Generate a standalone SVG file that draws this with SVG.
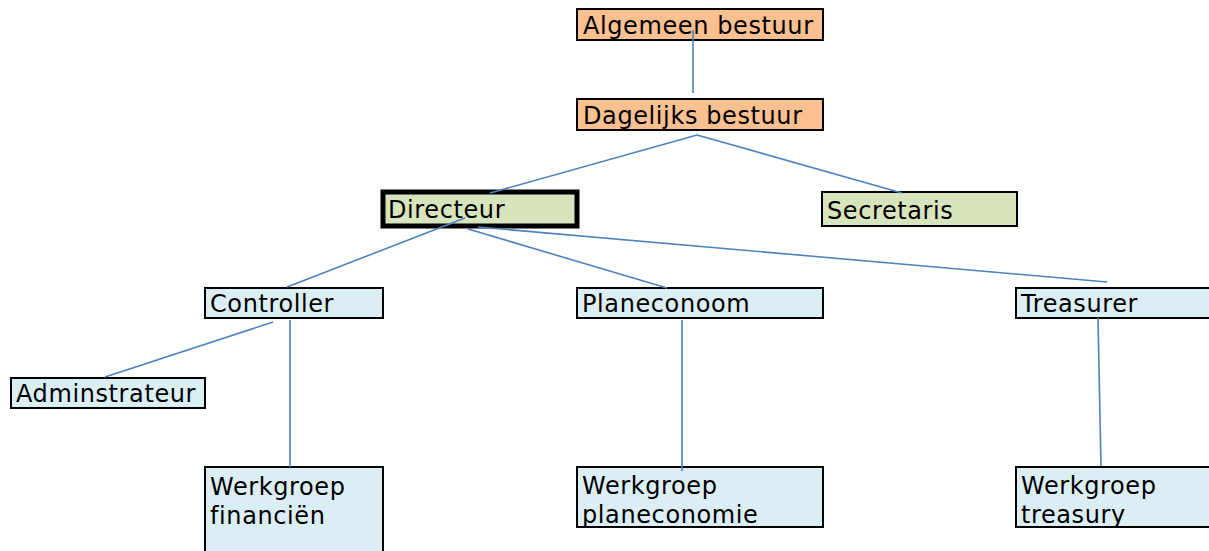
<svg xmlns="http://www.w3.org/2000/svg" width="1209" height="551" viewBox="0 0 1209 551">
<style>
.n rect{stroke:#000;stroke-width:2}
.o{fill:#fac090}
.g{fill:#d7e4bd}
.b{fill:#dbeef4}
text{font-family:"DejaVu Sans","Liberation Sans",sans-serif;font-size:24px;letter-spacing:0.6px;fill:#000}
#connectors line{stroke:#4f81bd;stroke-width:1.6}
</style>
<rect x="0" y="0" width="1209" height="551" fill="#fff"/>
<g id="algemeen" class="n"><rect class="o" x="577" y="9" width="246" height="31"/><text x="583" y="34">Algemeen bestuur</text></g>
<g id="dagelijks" class="n"><rect class="o" x="577" y="99" width="246" height="31"/><text x="583" y="124">Dagelijks bestuur</text></g>
<g id="directeur" class="n"><rect class="g" x="383" y="192" width="194" height="34" style="stroke-width:5"/><text x="388" y="218">Directeur</text></g>
<g id="secretaris" class="n"><rect class="g" x="822" y="192" width="195" height="34"/><text x="827" y="219">Secretaris</text></g>
<g id="controller" class="n"><rect class="b" x="205" y="288" width="178" height="30"/><text x="210" y="312">Controller</text></g>
<g id="planeconoom" class="n"><rect class="b" x="577" y="288" width="246" height="30"/><text x="582" y="312">Planeconoom</text></g>
<g id="treasurer" class="n"><rect class="b" x="1016" y="288" width="200" height="30"/><text x="1021" y="312">Treasurer</text></g>
<g id="adminstrateur" class="n"><rect class="b" x="11" y="378" width="194" height="30"/><text x="16" y="402">Adminstrateur</text></g>
<g id="wg-financien" class="n"><rect class="b" x="205" y="467" width="178" height="100"/><text x="210" y="495">Werkgroep</text><text x="210" y="524">financiën</text></g>
<g id="wg-planeconomie" class="n"><rect class="b" x="577" y="467" width="246" height="60"/><text x="582" y="494">Werkgroep</text><text x="582" y="523">planeconomie</text></g>
<g id="wg-treasury" class="n"><rect class="b" x="1016" y="467" width="200" height="60"/><text x="1021" y="494">Werkgroep</text><text x="1021" y="523">treasury</text></g>
<g id="connectors">
<line x1="693" y1="30" x2="693" y2="93"/>
<line x1="697" y1="135" x2="490" y2="193"/>
<line x1="697" y1="135" x2="902" y2="193"/>
<line x1="465" y1="218" x2="287" y2="287"/>
<line x1="468" y1="229" x2="667" y2="288"/>
<line x1="478" y1="227" x2="1107" y2="282"/>
<line x1="273" y1="322" x2="105" y2="377"/>
<line x1="290" y1="320" x2="290" y2="467"/>
<line x1="682" y1="320" x2="682" y2="471"/>
<line x1="1098" y1="318" x2="1101" y2="466"/>
</g>
</svg>
